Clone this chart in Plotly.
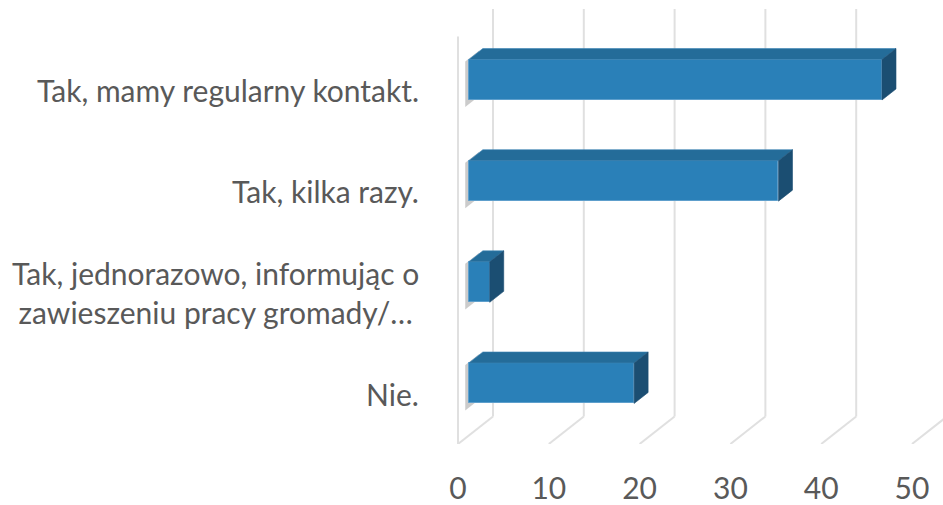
import plotly.graph_objects as go

# ---- data ----
categories = [
    "Tak, mamy regularny kontakt.",
    "Tak, kilka razy.",
    "Tak, jednorazowo, informując o<br>zawieszeniu pracy gromady/…",
    "Nie.",
]
values = [45.5, 34.1, 2.3, 18.2]
x_ticks = [0, 10, 20, 30, 40, 50]

# ---- layout geometry (pixels) ----
W, H = 943, 505
UX = 9.08          # px per value unit
UY = 103.0         # px per category
X0_PX = 458        # pixel of value 0 at the front of the floor
Y0_PX = 89.8       # pixel of first category centre at the front
PLOT_L, PLOT_R = 450, 943
PLOT_T, PLOT_B = 4, 452
WALL_TOP_PX = 37

DX = 35 / UX       # full depth offset (value units)
DY = 28 / UY       # full depth offset (category units, upward)
F_FRONT, F_BACK = 0.31, 0.71
BAR_H = 0.40

x_range = [(PLOT_L - X0_PX) / UX, (PLOT_R - X0_PX) / UX]
y_top = (PLOT_T - Y0_PX) / UY
y_floor = (PLOT_B - Y0_PX) / UY
y_wall_top = (WALL_TOP_PX - Y0_PX) / UY

idx = list(range(len(categories)))
front_color = "#2A80B8"
top_color = "#246C99"
side_color = "#1B4E72"
grid_color = "#E0E0E0"
text_color = "#595959"
FONT = "Lato"
FSIZE = 30

fig = go.Figure()

b0 = F_FRONT * DX
fy = F_FRONT * DY
ddx = (F_BACK - F_FRONT) * DX
ddy = (F_BACK - F_FRONT) * DY

shapes = []

# gridlines: back wall verticals, floor diagonals, left wall edge
for t in x_ticks:
    shapes.append(dict(type="line", xref="x", yref="y", layer="below",
                       x0=t + DX, x1=t + DX, y0=y_wall_top - DY, y1=y_floor - DY,
                       line=dict(color=grid_color, width=2)))
    shapes.append(dict(type="line", xref="x", yref="y", layer="below",
                       x0=t, x1=t + DX, y0=y_floor, y1=y_floor - DY,
                       line=dict(color=grid_color, width=2)))
shapes.append(dict(type="line", xref="x", yref="y", layer="below",
                   x0=0, x1=0, y0=y_wall_top, y1=y_floor,
                   line=dict(color=grid_color, width=2)))

# soft shadows on the left wall (below the bars)
for i in idx:
    yc = i - fy
    yt, yb = yc - BAR_H / 2, yc + BAR_H / 2
    sx = b0 - 0.4
    pts = [(sx, yt + 0.02), (sx + ddx, yt - ddy + 0.02),
           (sx + ddx, yb - ddy + 0.07), (sx, yb + 0.07)]
    path = "M " + " L ".join(f"{px},{py}" for px, py in pts) + " Z"
    shapes.append(dict(type="path", xref="x", yref="y", layer="below", path=path,
                       fillcolor="rgba(140,140,140,0.45)", line=dict(width=0)))

# front faces
fig.add_trace(go.Bar(
    orientation="h",
    y=[i - fy for i in idx],
    x=values,
    base=[b0] * len(values),
    width=BAR_H,
    marker=dict(color=front_color, line=dict(color="#5E9FCC", width=1)),
    showlegend=False,
    hovertext=categories,
))

# top and side faces
for i, v in zip(idx, values):
    yc = i - fy
    yt, yb = yc - BAR_H / 2, yc + BAR_H / 2
    xe = b0 + v
    fig.add_trace(go.Scatter(
        x=[b0, xe, xe + ddx, b0 + ddx, b0],
        y=[yt, yt, yt - ddy, yt - ddy, yt],
        fill="toself", fillcolor=top_color, mode="lines",
        line=dict(color="#3C84B5", width=0.6),
        hoverinfo="skip", showlegend=False))
    fig.add_trace(go.Scatter(
        x=[xe, xe, xe + ddx, xe + ddx, xe],
        y=[yt, yb, yb - ddy, yt - ddy, yt],
        fill="toself", fillcolor=side_color, mode="lines",
        line=dict(color="#1B4E72", width=0.6),
        hoverinfo="skip", showlegend=False))

annotations = []
for i, c in zip(idx, categories):
    annotations.append(dict(
        xref="paper", yref="y", x=0, y=i, xanchor="right", yanchor="middle",
        xshift=421 - PLOT_L, yshift=-2, text=c, showarrow=False, align="center",
        font=dict(family=FONT, size=FSIZE, color=text_color)))

fig.update_layout(
    width=W, height=H,
    margin=dict(l=PLOT_L, r=W - PLOT_R, t=PLOT_T, b=H - PLOT_B),
    paper_bgcolor="white", plot_bgcolor="white",
    shapes=shapes, annotations=annotations,
    xaxis=dict(range=x_range, tickvals=x_ticks, showgrid=False, zeroline=False,
               showline=False, ticks="", ticklabelstandoff=24,
               tickfont=dict(family=FONT, size=FSIZE, color=text_color)),
    yaxis=dict(range=[y_floor, y_top], showgrid=False, zeroline=False,
               showline=False, showticklabels=False, ticks=""),
    bargap=0,
)

fig.write_html("out.html", config={"displayModeBar": False},
               post_script="document.body.style.margin='0';")
